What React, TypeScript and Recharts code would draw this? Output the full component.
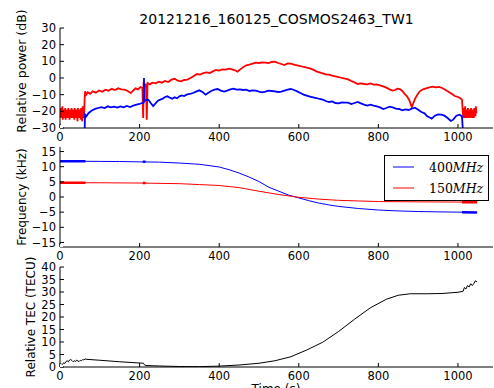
import { LineChart, Line, XAxis, YAxis } from 'recharts'

// 20121216_160125_COSMOS2463_TW1 — power, Doppler frequency and relative TEC vs time

const TITLE = '20121216_160125_COSMOS2463_TW1'
const FONT = '"DejaVu Sans", sans-serif'

const X_DOMAIN: [number, number] = [0, 1088]
const X_TICKS = [0, 200, 400, 600, 800, 1000]
const POWER_TICKS = [-30, -20, -10, 0, 10, 20, 30]
const FREQ_TICKS = [-15, -10, -5, 0, 5, 10, 15]
const TEC_TICKS = [0, 5, 10, 15, 20, 25, 30, 35, 40]

// relative power (dB), [time s, value]
const redPower: [number, number][] = [
  [0, -19], [1, -23], [2, -18], [3, -24], [4, -20], [5, -22], [6, -17], [7, -25], [8, -21], [9, -19],
  [10, -24], [11, -20], [12, -22], [13, -18], [14, -25], [15, -21], [16, -20], [17, -23], [18, -19], [19, -24],
  [20, -21], [21, -18], [22, -23], [23, -20], [24, -25], [25, -19], [26, -22], [27, -20], [28, -24], [29, -18],
  [30, -22], [31, -20], [32, -24], [33, -19], [34, -23], [35, -21], [36, -25], [37, -18], [38, -22], [39, -20],
  [40, -24], [41, -19], [42, -23], [43, -21], [44, -26], [45, -18], [46, -22], [47, -20], [48, -24], [49, -19],
  [50, -23], [51, -20], [52, -25], [53, -18], [54, -22], [55, -21], [56, -26], [57, -17], [58, -23], [59, -20],
  [60, -24], [61, -19], [62, -12], [63, -8], [66, -10], [70, -8.5], [76, -9.5], [82, -8], [90, -8.8], [98, -7.5],
  [106, -8.2], [114, -7], [122, -7.6], [130, -6.5], [138, -7.2], [146, -6.2], [154, -6.8], [162, -7], [170, -7.8],
  [178, -9], [184, -7.5], [190, -6.2], [196, -6.8], [202, -5.5], [207, -6], [209, -24], [210, -4], [213, -5],
  [216, -3.5], [218, -25], [220, -3], [226, -3.8], [232, -2.8], [240, -3.2], [248, -2.2], [256, -2.8], [264, -1.8],
  [272, -2.4], [280, -1], [288, -0.5], [296, -1.6], [304, -2], [312, -1.2], [320, -1], [328, 0], [336, 1.2],
  [344, 2.4], [352, 2], [360, 2.9], [368, 3.4], [376, 3], [384, 4], [392, 4.8], [400, 4.4], [408, 5.2], [416, 5],
  [424, 5.6], [432, 5.2], [440, 4.6], [446, 3.8], [452, 5], [460, 6.5], [468, 7.6], [476, 8], [484, 8.6],
  [492, 9.2], [500, 9], [508, 9.4], [516, 9.2], [524, 9], [532, 9.6], [540, 9.8], [548, 9], [556, 8.4], [564, 7.8],
  [572, 8.8], [580, 8.6], [588, 8], [596, 7.6], [604, 7.2], [612, 6.6], [620, 6.2], [628, 5.8], [636, 5], [644, 4],
  [652, 3.4], [660, 2.8], [668, 2.2], [676, 2], [684, 1.4], [692, 1], [700, 0.6], [708, 0], [716, -0.4],
  [724, -0.8], [732, -1.8], [740, -2.6], [748, -3.6], [756, -3.2], [764, -3.6], [772, -3.8], [780, -3.2],
  [788, -4], [796, -3.8], [804, -4.4], [812, -5], [820, -5.8], [828, -6.8], [836, -7.6], [842, -7.2], [848, -6.4],
  [854, -6.6], [860, -7.8], [866, -9.5], [872, -11], [878, -13.5], [884, -17.5], [888, -15], [892, -12.5],
  [898, -10], [904, -8], [912, -6.8], [920, -6.2], [928, -5.6], [936, -5.2], [944, -5.6], [952, -5.4], [960, -6],
  [968, -7], [976, -8.2], [984, -9.5], [992, -10.8], [1000, -11.4], [1006, -12.2], [1010, -13], [1012, -20],
  [1013, -23], [1014, -18], [1015, -24], [1016, -20], [1017, -22], [1018, -17], [1019, -24], [1020, -21],
  [1021, -19], [1022, -24], [1023, -20], [1024, -22], [1025, -18], [1026, -24], [1027, -21], [1028, -20],
  [1029, -23], [1030, -19], [1031, -24], [1032, -21], [1033, -18], [1034, -23], [1035, -20], [1036, -24],
  [1037, -19], [1038, -22], [1039, -20], [1040, -24], [1041, -18], [1042, -22], [1043, -20], [1044, -23],
  [1045, -17], [1046, -21],
]

const bluePower: [number, number][] = [
  [62, -30], [63, -22], [66, -23], [72, -21], [80, -19.5], [88, -18.5], [96, -18], [104, -17.5], [112, -18],
  [120, -17], [128, -17.6], [136, -17.2], [144, -17.8], [152, -17], [160, -17.6], [168, -16.8], [176, -17.4],
  [184, -16.6], [192, -16], [200, -15.6], [206, -15], [210, -14.8], [211, 0], [212, -14], [216, -13.2],
  [222, -13], [228, -15], [234, -16.8], [240, -15.2], [246, -13.6], [252, -13], [258, -12.4], [264, -11.4],
  [270, -11], [276, -11.8], [282, -12.4], [288, -11.6], [294, -12.2], [300, -11], [306, -10.4], [312, -10.8],
  [318, -10], [326, -9.6], [334, -9], [342, -8.2], [350, -7.4], [358, -8.4], [366, -10], [372, -9], [380, -7.8],
  [388, -7], [396, -6.6], [404, -7.6], [412, -8.2], [420, -7.6], [428, -6.8], [436, -6.4], [444, -7], [452, -6.8],
  [460, -7.2], [468, -7], [476, -7.8], [484, -7.4], [492, -7.6], [500, -8.2], [508, -8.6], [516, -8.2],
  [524, -7.6], [532, -7.8], [540, -8], [548, -8.4], [556, -8.2], [564, -7.6], [572, -7], [580, -6.6], [588, -7.2],
  [596, -8], [604, -9], [612, -10], [620, -10.6], [628, -11.2], [636, -11.6], [644, -12], [652, -12.6],
  [660, -13], [668, -13.8], [676, -14.4], [684, -14], [692, -15], [700, -15.2], [708, -14.6], [716, -14.8],
  [724, -14.8], [732, -15.6], [740, -15], [748, -14.4], [756, -15.2], [764, -16], [772, -16.6], [780, -16],
  [788, -16.6], [796, -17], [804, -17.6], [812, -18.6], [820, -18], [828, -17.2], [836, -17.6], [844, -18.4],
  [852, -18.6], [860, -19.4], [868, -18.8], [876, -19.2], [884, -18.4], [892, -17.8], [900, -19], [908, -20.4],
  [916, -21.2], [922, -22.8], [928, -23.6], [934, -24.4], [942, -22.6], [950, -21.8], [958, -22], [966, -22.6],
  [974, -24], [982, -25.8], [988, -25], [996, -22.6], [1004, -22], [1010, -23], [1012, -30],
]

// Doppler frequency (kHz)
const freq400: [number, number][] = [
  [0, 11.8], [50, 11.8], [100, 11.75], [150, 11.7], [200, 11.6], [250, 11.5], [300, 11.2], [350, 10.8],
  [400, 9.9], [425, 9], [450, 7.9], [475, 6.6], [500, 5.1], [525, 3.2], [550, 1.9], [575, 0.6], [600, -0.3],
  [625, -1.2], [650, -2], [675, -2.6], [700, -3.1], [750, -3.8], [800, -4.3], [850, -4.6], [900, -4.8],
  [950, -4.9], [1000, -5], [1048, -5.1],
]
const freq150: [number, number][] = [
  [0, 4.7], [100, 4.7], [200, 4.6], [300, 4.4], [350, 4.1], [400, 3.8], [450, 3.1], [500, 1.9], [550, 0.8],
  [600, -0.1], [650, -0.7], [700, -1.1], [750, -1.3], [800, -1.5], [900, -1.6], [1048, -1.7],
]
// stretches where the samples are dense (drawn thicker)
const dense400: [number, number | null][] = [
  [0, 11.8], [64, 11.8], [65, null], [208, 11.6], [215, 11.6], [216, null], [1010, -5], [1048, -5.1],
]
const dense150: [number, number | null][] = [
  [0, 4.7], [64, 4.7], [65, null], [208, 4.6], [215, 4.6], [216, null], [1010, -1.7], [1048, -1.7],
]

// relative TEC (TECU)
const tec: [number, number][] = [
  [0, 0.4], [3, 1.2], [6, 0.9], [9, 1.7], [12, 1.4], [15, 2.2], [18, 2.5], [21, 2.1], [24, 2.8], [27, 3],
  [30, 2.6], [33, 2.1], [36, 2.5], [39, 2.2], [42, 2.8], [45, 2.4], [48, 2.2], [51, 2.7], [54, 2.5], [57, 3],
  [60, 2.8], [63, 3.3], [65, 3.1], [100, 2.7], [150, 2.1], [210, 1.5], [212, 0.9], [216, 0.6], [250, 0.4],
  [300, 0.2], [350, 0.15], [400, 0.35], [450, 0.8], [500, 1.5], [540, 2.5], [580, 4.1], [620, 6.8], [660, 9.9],
  [700, 14.2], [740, 19.1], [780, 23.7], [820, 27.1], [850, 28.7], [880, 29.3], [920, 29.3], [960, 29.4],
  [1000, 29.9], [1013, 30.3], [1016, 31.8], [1020, 31.2], [1024, 32.6], [1028, 32], [1032, 33.3], [1036, 32.6],
  [1040, 33.4], [1044, 34.5], [1048, 34],
]

const rows = (pts: [number, number | null][]) => pts.map(([t, v]) => ({ t, v }))
const fmt = (v: number) => String(v).replace('-', '\u2212')
const tickStyle = { fill: '#000', fontSize: 11.5, fontFamily: FONT }

type Series = { pts: [number, number | null][]; color: string; width: number }

function Panel({ top, yDomain, yTicks, series }: {
  top: number; yDomain: [number, number]; yTicks: number[]; series: Series[]
}) {
  return (
    <div style={{ position: 'absolute', left: 0, top: top - 10 }}>
      <LineChart width={494} height={130} margin={{ top: 10, right: 1, bottom: 0, left: 0 }}>
        <XAxis xAxisId="b" type="number" dataKey="t" domain={X_DOMAIN} ticks={X_TICKS} allowDataOverflow
          interval={0} height={20} tickSize={-4} tickMargin={9} tick={tickStyle}
          axisLine={{ stroke: '#000' }} tickLine={{ stroke: '#000' }} />
        <XAxis xAxisId="tp" orientation="top" type="number" dataKey="t" domain={X_DOMAIN} ticks={X_TICKS}
          allowDataOverflow interval={0} height={0} tickSize={-4} tickFormatter={() => ''}
          axisLine={{ stroke: '#000' }} tickLine={{ stroke: '#000' }} />
        <YAxis yAxisId="l" type="number" domain={yDomain} ticks={yTicks} allowDataOverflow interval={0}
          width={60} tickSize={-4} tickMargin={8} tick={tickStyle} tickFormatter={fmt}
          axisLine={{ stroke: '#000' }} tickLine={{ stroke: '#000' }} />
        <YAxis yAxisId="r" orientation="right" type="number" domain={yDomain} ticks={yTicks} allowDataOverflow
          interval={0} width={0} tickSize={-4} tickFormatter={() => ''}
          axisLine={{ stroke: '#000' }} tickLine={{ stroke: '#000' }} />
        <Line xAxisId="tp" yAxisId="r" data={rows([[0, yDomain[0]]])} dataKey="v" stroke="none"
          dot={false} isAnimationActive={false} />
        {series.map((s, i) => (
          <Line key={i} xAxisId="b" yAxisId="l" data={rows(s.pts)} dataKey="v" type="linear"
            stroke={s.color} strokeWidth={s.width} dot={false} isAnimationActive={false} />
        ))}
      </LineChart>
    </div>
  )
}

function LegendBox() {
  const items = [{ num: '400', color: '#0000ff', y: 167 }, { num: '150', color: '#ff0000', y: 188 }]
  return (
    <g>
      <rect x={384.5} y={155.5} width={104} height={45} fill="#fff" stroke="#000" strokeWidth={1} />
      {items.map((it) => (
        <g key={it.num}>
          <line x1={393} x2={414} y1={it.y} y2={it.y} stroke={it.color} strokeWidth={1} />
          <text x={429} y={it.y + 4.5} fontFamily='"DejaVu Serif", serif' fontSize={12.5} fill="#000">
            {it.num}<tspan fontStyle="italic">MHz</tspan>
          </text>
        </g>
      ))}
    </g>
  )
}

export default function App() {
  return (
    <div style={{ position: 'absolute', left: 0, top: 0, width: 494, height: 388, background: '#fff', overflow: 'hidden' }}>
      <Panel top={28} yDomain={[-30, 30]} yTicks={POWER_TICKS} series={[
        { pts: redPower, color: '#ff0000', width: 1.8 },
        { pts: bluePower, color: '#0000ff', width: 1.8 },
      ]} />
      <Panel top={147} yDomain={[-16.5, 16.5]} yTicks={FREQ_TICKS} series={[
        { pts: freq400, color: '#0000ff', width: 1 },
        { pts: freq150, color: '#ff0000', width: 1 },
        { pts: dense400, color: '#0000ff', width: 2.5 },
        { pts: dense150, color: '#ff0000', width: 2.5 },
      ]} />
      <Panel top={267} yDomain={[0, 40]} yTicks={TEC_TICKS} series={[
        { pts: tec, color: '#000000', width: 1 },
      ]} />
      <svg width={494} height={388} style={{ position: 'absolute', left: 0, top: 0, pointerEvents: 'none' }}>
        <text x={276.5} y={24} textAnchor="middle" fontFamily={FONT} fontSize={14} fill="#000">{TITLE}</text>
        <text transform="translate(26,71) rotate(-90)" textAnchor="middle" fontFamily={FONT} fontSize={12.5} fill="#000">
          Relative power (dB)
        </text>
        <text transform="translate(25.5,197) rotate(-90)" textAnchor="middle" fontFamily={FONT} fontSize={12} fill="#000">
          Frequency (kHz)
        </text>
        <text transform="translate(35,317) rotate(-90)" textAnchor="middle" fontFamily={FONT} fontSize={12} fill="#000">
          Relative TEC (TECU)
        </text>
        <text x={276} y={393} textAnchor="middle" fontFamily={FONT} fontSize={12} fill="#000">Time (s)</text>
        <LegendBox />
      </svg>
    </div>
  )
}
